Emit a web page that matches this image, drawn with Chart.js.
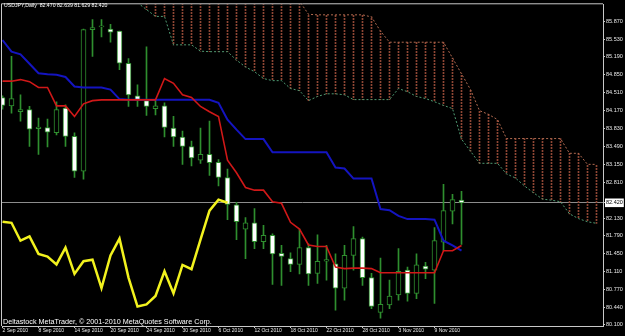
<!DOCTYPE html>
<html>
<head>
<meta charset="utf-8">
<script src="https://cdn.jsdelivr.net/npm/chart.js@4.4.0/dist/chart.umd.min.js"></script>
<style>
html, body { margin: 0; padding: 0; background: #000; }
#wrap { position: relative; width: 625px; height: 336px; }
.txt { position: absolute; color: #fff; font-family: 'Liberation Sans', Arial, sans-serif; white-space: pre; line-height: 1; }
#title { left: 4px; top: 3px; font-size: 5.2px; }
#copy { left: 3px; top: 318px; font-size: 7.2px; }
</style>
</head>
<body>
<div id="wrap">
<canvas id="c" width="625" height="336"></canvas>
<div class="txt" id="title">USDJPY,Daily  82.470 82.639 81.629 82.420</div>
<div class="txt" id="copy">Deltastock MetaTrader, © 2001-2010 MetaQuotes Software Corp.</div>
</div>
<script>
// daily USDJPY bars, 2 Sep 2010 .. 12 Nov 2010
const opens  = [84.42, 84.26, 84.15, 84.19, 83.83, 83.85, 83.75, 84.22, 83.68, 83.02, 85.71, 85.76, 85.72, 85.68, 85.07, 84.45, 84.36, 84.21,
                84.26, 83.84, 83.67, 83.49, 83.23, 83.34, 83.19, 82.90, 82.38, 81.92, 82.04, 81.68, 81.80, 81.46, 81.36, 81.25, 81.57,
                81.08, 81.31, 81.26, 80.80, 81.42, 81.74, 81.00, 80.34, 80.48, 80.67, 81.14, 80.70, 81.22, 81.14, 81.67, 82.26, 82.47];
const highs  = [84.45, 85.20, 84.47, 84.25, 84.03, 84.01, 84.34, 84.28, 83.75, 85.72, 85.90, 85.90, 85.81, 85.68, 85.16, 84.66, 85.38, 84.38,
                84.32, 84.06, 83.78, 83.59, 83.84, 83.97, 83.24, 83.06, 82.43, 82.14, 82.31, 81.99, 81.83, 81.61, 81.47, 81.92, 81.64,
                81.81, 81.61, 81.45, 81.61, 81.97, 81.77, 81.08, 81.37, 80.95, 81.55, 81.20, 81.45, 81.29, 81.95, 82.77, 82.58, 82.64];
const lows   = [84.20, 84.12, 83.97, 83.49, 83.34, 83.48, 83.71, 83.49, 82.90, 82.87, 85.20, 85.57, 85.47, 84.95, 84.25, 84.25, 84.08, 84.09,
                83.67, 83.49, 83.15, 83.12, 83.17, 82.94, 82.74, 82.10, 81.72, 81.36, 81.55, 81.55, 80.87, 80.85, 81.11, 81.07, 80.85,
                80.89, 80.95, 80.38, 80.57, 81.14, 80.85, 80.41, 80.23, 80.41, 80.57, 80.55, 80.60, 80.98, 80.51, 81.51, 82.02, 81.63];
const closes = [84.27, 84.40, 84.19, 83.82, 83.86, 83.76, 84.19, 83.68, 83.02, 85.71, 85.75, 85.78, 85.66, 85.07, 84.47, 84.37, 84.25, 84.26,
                83.85, 83.67, 83.49, 83.27, 83.34, 83.18, 82.90, 82.39, 82.06, 82.04, 81.68, 81.80, 81.45, 81.40, 81.25, 81.57, 81.07,
                81.31, 81.34, 80.80, 81.42, 81.74, 81.00, 80.45, 80.49, 80.65, 81.12, 80.70, 81.24, 81.16, 81.70, 82.27, 82.48, 82.42];

// ichimoku lines
const tenkan = [84.73, 84.73, 84.76, 84.72, 84.61, 84.61, 84.26, 84.26, 84.06, 84.30, 84.36, 84.375, 84.375, 84.375, 84.375, 84.375, 84.375, 84.375,
                84.78, 84.69, 84.47, 84.42, 84.25, 84.15, 84.06, 83.23, 82.99, 82.71, 82.66, 82.66, 82.44, 82.41, 82.05, 81.92, 81.62,
                81.59, 81.59, 81.20, 81.17, 81.18, 81.18, 81.17, 81.09, 81.09, 81.09, 81.09, 81.09, 81.09, 81.09, 81.51, 81.51, 81.61];
const kijun  = [85.51, 85.29, 85.24, 85.06, 84.88, 84.86, 84.85, 84.81, 84.63, 84.61, 84.61, 84.61, 84.57, 84.39, 84.375, 84.375, 84.375, 84.375,
                84.375, 84.375, 84.375, 84.375, 84.375, 84.375, 84.32, 84.00, 83.81, 83.63, 83.63, 83.63, 83.38, 83.38, 83.38, 83.38, 83.38,
                83.38, 83.38, 83.09, 83.07, 82.88, 82.88, 82.88, 82.30, 82.28, 82.17, 82.11, 82.11, 82.11, 82.10, 81.70, 81.61, 81.51];
// lagging span, plotted from bar 0
const chikou = [82.06, 82.04, 81.70, 81.78, 81.45, 81.40, 81.25, 81.57, 81.07, 81.31, 81.34, 80.80, 81.42, 81.74, 81.00, 80.45, 80.49, 80.65,
                81.12, 80.70, 81.24, 81.16, 81.72, 82.27, 82.48, 82.42];
// cloud spans, first value sits on bar 15
const spanStart = 15;
const senkouA = [86.22, 86.09, 85.96, 85.96, 85.42, 85.42, 85.42, 85.30, 85.29, 85.29, 85.29, 85.13, 85.00, 84.91, 84.78, 84.74, 84.74, 84.59,
                 84.55, 84.36, 84.44, 84.49, 84.49, 84.47, 84.38, 84.38, 84.38, 84.38, 84.38, 84.59, 84.53, 84.44, 84.40, 84.34, 84.27,
                 84.21, 83.63, 83.40, 83.17, 83.17, 83.17, 82.97, 82.89, 82.74, 82.61, 82.49, 82.47, 82.44, 82.21, 82.12, 82.06, 82.03];
const senkouB = [86.60, 86.60, 86.60, 86.60, 86.60, 86.60, 86.60, 86.60, 86.60, 86.60, 86.60, 86.60, 86.60, 86.60, 86.60, 86.60, 86.60, 86.60,
                 86.25, 86.00, 85.99, 85.99, 85.99, 85.99, 85.99, 85.99, 85.95, 85.68, 85.47, 85.47, 85.47, 85.47, 85.47, 85.47, 85.47,
                 85.17, 84.87, 84.57, 84.17, 84.10, 84.00, 83.64, 83.64, 83.64, 83.64, 83.64, 83.64, 83.64, 83.36, 83.36, 83.15, 83.15];

const dateTicks  = [0, 4, 8, 12, 16, 20, 24, 28, 32, 36, 40, 44, 48];
const dateLabels = ['2 Sep 2010', '8 Sep 2010', '14 Sep 2010', '20 Sep 2010', '24 Sep 2010', '30 Sep 2010', '6 Oct 2010',
                    '12 Oct 2010', '18 Oct 2010', '22 Oct 2010', '28 Oct 2010', '3 Nov 2010', '9 Nov 2010'];
const priceTicks = [85.87, 85.53, 85.19, 84.85, 84.51, 84.17, 83.83, 83.49, 83.15, 82.81, 82.42, 82.13, 81.79, 81.45, 81.11, 80.77, 80.44, 80.10];
const lastClose = 82.42;

const candleGreen = '#2f8f2f';
const axisGrey = '#c8c8c8';
const font = "'Liberation Sans', Arial, sans-serif";

const canvas = document.getElementById('c');
const ctx = canvas.getContext('2d');

// dotted fill for the cloud verticals
const pc = document.createElement('canvas');
pc.width = 1; pc.height = 3;
const pctx = pc.getContext('2d');
pctx.fillStyle = '#8e4634';
pctx.fillRect(0, 0, 1, 2);
const cloudPattern = ctx.createPattern(pc, 'repeat');

const xMin = -0.5 / 9;

const framePlugin = {
    id: 'frame',
    afterDraw(chart) {
        const a = chart.chartArea;
        const c = chart.ctx;
        c.save();
        c.strokeStyle = axisGrey;
        c.lineWidth = 1;
        c.beginPath();
        c.moveTo(a.left - 0.5, a.bottom);
        c.lineTo(a.left - 0.5, a.top - 0.5);
        c.lineTo(a.right, a.top - 0.5);
        c.stroke();
        c.restore();
    }
};

new Chart(ctx, {
    type: 'line',
    data: {
        datasets: [
            {
                type: 'line', label: 'Tenkan', order: 0,
                data: tenkan.map((v, i) => ({ x: i, y: v })),
                borderColor: '#d01818', borderWidth: 1.6, pointRadius: 0, tension: 0
            },
            {
                type: 'line', label: 'Kijun', order: 1,
                data: kijun.map((v, i) => ({ x: i, y: v })),
                borderColor: '#1414c0', borderWidth: 2, pointRadius: 0, tension: 0
            },
            {
                type: 'line', label: 'Chikou', order: 2,
                data: chikou.map((v, i) => ({ x: i, y: v })),
                borderColor: '#f2f21e', borderWidth: 2.5, pointRadius: 0, tension: 0
            },
            {
                type: 'bar', label: 'Body', order: 3, grouped: false,
                data: opens.map((o, i) => ({ x: i, y: [o, closes[i]] })),
                backgroundColor: c => closes[c.dataIndex] >= opens[c.dataIndex] ? '#000000' : '#ffffff',
                borderColor: candleGreen, borderWidth: 1, borderSkipped: false,
                barThickness: 5, minBarLength: 1
            },
            {
                type: 'bar', label: 'Wick', order: 4, grouped: false,
                data: lows.map((l, i) => ({ x: i, y: [l, highs[i]] })),
                backgroundColor: candleGreen, borderWidth: 0, barThickness: 1
            },
            {
                type: 'line', label: 'Senkou B', order: 5,
                data: senkouB.map((v, k) => ({ x: spanStart + k, y: v })),
                borderColor: '#b06a50', borderWidth: 1, borderDash: [2, 2], pointRadius: 0, tension: 0
            },
            {
                type: 'line', label: 'Senkou A', order: 5,
                data: senkouA.map((v, k) => ({ x: spanStart + k, y: v })),
                borderColor: '#4f9a72', borderWidth: 1, borderDash: [2, 2], pointRadius: 0, tension: 0
            },
            {
                type: 'bar', label: 'Cloud', order: 6, grouped: false,
                data: senkouA.map((v, k) => ({ x: spanStart + k, y: [v, senkouB[k]] })),
                backgroundColor: cloudPattern, borderWidth: 0, barThickness: 1
            }
        ]
    },
    options: {
        responsive: false,
        animation: false,
        devicePixelRatio: 1,
        layout: { padding: { left: 2, top: 2, right: 0, bottom: 0 } },
        plugins: { legend: { display: false }, tooltip: { enabled: false } },
        scales: {
            x: {
                type: 'linear', position: 'bottom', offset: false,
                min: xMin, max: xMin + 601 / 9,
                afterBuildTicks: s => { s.ticks = dateTicks.map(v => ({ value: v })); },
                afterFit: s => { s.height = 10; },
                ticks: {
                    autoSkip: false, maxRotation: 0, align: 'start', padding: 0,
                    color: '#e8e8e8', font: { family: font, size: 5 },
                    callback: v => dateLabels[dateTicks.indexOf(v)]
                },
                grid: { drawOnChartArea: false, drawTicks: true, tickLength: 2, color: axisGrey, offset: false },
                border: { color: axisGrey }
            },
            y: {
                type: 'linear', position: 'right',
                min: 80.08, max: 86.19,
                afterBuildTicks: s => { s.ticks = priceTicks.map(v => ({ value: v })); },
                afterFit: s => { s.width = 22; },
                ticks: {
                    autoSkip: false, padding: 1,
                    font: { family: font, size: 5.5 },
                    color: c => c.tick && c.tick.value === lastClose ? '#000000' : '#e8e8e8',
                    showLabelBackdrop: c => !!(c.tick && c.tick.value === lastClose),
                    backdropColor: '#ffffff',
                    backdropPadding: 1,
                    callback: v => v.toFixed(3)
                },
                grid: {
                    drawTicks: true, tickLength: 2, tickColor: axisGrey,
                    color: c => c.tick && c.tick.value === lastClose ? '#8c8c8c' : 'rgba(0,0,0,0)'
                },
                border: { color: axisGrey }
            }
        }
    },
    plugins: [framePlugin]
});
</script>
</body>
</html>
